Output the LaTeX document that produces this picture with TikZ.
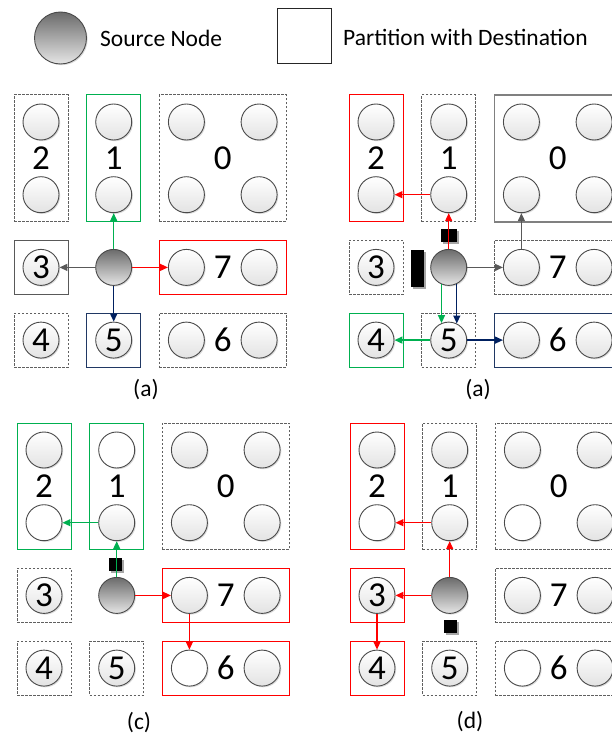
\documentclass[tikz,border=0pt]{standalone}
\usepackage{fontspec}
\setmainfont{Carlito}
\usetikzlibrary{arrows.meta,shadows}
\definecolor{mygreen}{HTML}{00B050}
\definecolor{myred}{HTML}{FF0000}
\definecolor{mynavy}{HTML}{002060}
\definecolor{boxnavy}{HTML}{203864}
\definecolor{mygray}{HTML}{595959}
\definecolor{dashgray}{HTML}{606060}
\definecolor{cbord}{HTML}{4A4A4A}
\newcommand\digfont{\fontsize{35}{35}\selectfont}
\newcommand\legfont{\fontsize{23.5}{23.5}\selectfont}
\tikzset{
  cir/.style={circle,minimum size=36pt,inner sep=0pt,draw=cbord,line width=0.9pt,
    top color=white,bottom color=black!11,font=\digfont,
    general shadow={fill=black!14,shadow xshift=1.2pt,shadow yshift=-1.2pt}},
  wcir/.style={top color=white,bottom color=white},
  srcnode/.style={cir,top color=black!58,bottom color=black!10},
  pbox/.style={rectangle,inner sep=0pt,line width=1pt},
  dashbox/.style={draw=dashgray,dash pattern=on 2.5pt off 1.5pt},
  redbox/.style={draw=myred},
  greenbox/.style={draw=mygreen},
  navybox/.style={draw=boxnavy},
  graybox/.style={draw=mygray},
  graythick/.style={draw=black!50,line width=1.6pt},
  wA/.style={minimum width=54pt},
  wC/.style={minimum width=126.7pt},
  hR1/.style={minimum height=126.7pt},
  hR/.style={minimum height=54pt},
  part0/.style={dashbox},part1/.style={dashbox},part2/.style={dashbox},part3/.style={dashbox},
  part4/.style={dashbox},part5/.style={dashbox},part6/.style={dashbox},part7/.style={dashbox},
  k2a/.style={},k2b/.style={},k1a/.style={},k1b/.style={},k0a/.style={},k0b/.style={},
  k0c/.style={},k0d/.style={},k3/.style={},k7a/.style={},k7b/.style={},k4/.style={},
  k5/.style={},k6a/.style={},k6b/.style={},
  lbl/.style={font=\digfont,inner sep=0pt},
  captxt/.style={font=\legfont,inner sep=0pt},
  arr/.style={line width=1.4pt,-{Triangle[length=8pt,width=7pt]}},
  blk/.style={rectangle,fill=black,inner sep=0pt,
    general shadow={fill=black!35,shadow xshift=1.6pt,shadow yshift=-1.6pt}},
}
\newcommand\gridpanel[1]{%
  \node[pbox,wA,hR1,part2] (#1-P2) at (41,158.35) {};
  \node[pbox,wA,hR1,part1] (#1-P1) at (113.7,158.35) {};
  \node[pbox,wC,hR1,part0] (#1-P0) at (222.75,158.35) {};
  \node[pbox,wA,hR,part3] (#1-P3) at (41,267.4) {};
  \node[pbox,wC,hR,part7] (#1-P7) at (222.75,267.4) {};
  \node[pbox,wA,hR,part4] (#1-P4) at (41,340.1) {};
  \node[pbox,wA,hR,part5] (#1-P5) at (113.7,340.1) {};
  \node[pbox,wC,hR,part6] (#1-P6) at (222.75,340.1) {};
  \node[cir,k2a] (#1-2a) at (41,122) {};
  \node[cir,k2b] (#1-2b) at (41,194.7) {};
  \node[cir,k1a] (#1-1a) at (113.7,122) {};
  \node[cir,k1b] (#1-1b) at (113.7,194.7) {};
  \node[cir,k0a] (#1-0a) at (186.4,122) {};
  \node[cir,k0b] (#1-0b) at (259.1,122) {};
  \node[cir,k0c] (#1-0c) at (186.4,194.7) {};
  \node[cir,k0d] (#1-0d) at (259.1,194.7) {};
  \node[cir,k3] (#1-3) at (41,267.4) {3};
  \node[srcnode] (#1-s) at (113.7,267.4) {};
  \node[cir,k7a] (#1-7a) at (186.4,267.4) {};
  \node[cir,k7b] (#1-7b) at (259.1,267.4) {};
  \node[cir,k4] (#1-4) at (41,340.1) {4};
  \node[cir,k5] (#1-5) at (113.7,340.1) {5};
  \node[cir,k6a] (#1-6a) at (186.4,340.1) {};
  \node[cir,k6b] (#1-6b) at (259.1,340.1) {};
  \node[lbl] (#1-L2) at (41,158.35) {2};
  \node[lbl] (#1-L1) at (113.7,158.35) {1};
  \node[lbl] (#1-L0) at (222.75,158.35) {0};
  \node[lbl] (#1-L7) at (222.75,267.4) {7};
  \node[lbl] (#1-L6) at (222.75,340.1) {6};
}
\begin{document}
\begin{tikzpicture}[x=1pt,y=-1pt]
\useasboundingbox (0,0) rectangle (612,735);
\clip (0,0) rectangle (612,735);
% legend
\node[srcnode,minimum size=52pt] (lg-src) at (60.5,38) {};
\node[captxt,anchor=west] (lg-srct) at (100,38) {Source Node};
\node[rectangle,draw=black!85,line width=1pt,minimum width=54pt,minimum height=55pt] (lg-box) at (304,36.5) {};
\node[captxt,anchor=west] (lg-boxt) at (343,37) {Partition with Destination};
% panel top-left
\begin{scope}[part1/.style={greenbox},part3/.style={graybox},part7/.style={redbox},part5/.style={navybox}]
\gridpanel{tl}
\draw[arr,mygreen] (tl-s) -- (tl-1b);
\draw[arr,mygray] (tl-s) -- (tl-3);
\draw[arr,myred] (tl-s) -- (tl-7a);
\draw[arr,mynavy] (tl-s) -- (tl-5);
\end{scope}
\node[captxt] (cap-a1) at (146,390) {(a)};
% panel top-right
\begin{scope}[shift={(335,0)},part2/.style={redbox},part0/.style={graythick},part4/.style={greenbox},part6/.style={navybox}]
\gridpanel{tr}
\node[blk,minimum width=13pt,minimum height=37pt] (tr-bar) at (82.5,268.5) {};
\node[blk,minimum width=16pt,minimum height=13pt] (tr-mk) at (114,235.5) {};
\draw[arr,myred] (tr-s) -- (tr-1b);
\draw[arr,myred] (tr-1b) -- (tr-2b);
\draw[arr,mygray] (tr-s) -- (tr-7a);
\draw[arr,mygray] (tr-7a) -- (tr-0c);
\draw[arr,mygreen] (tr-s.-113) -- (tr-5.113);
\draw[arr,mynavy] (tr-s.-64) -- (tr-5.64);
\draw[arr,mygreen] (tr-5) -- (tr-4);
\draw[arr,mynavy] (tr-5) -- (tr-6a);
\end{scope}
\node[captxt] (cap-a2) at (478,390) {(a)};
% panel bottom-left
\begin{scope}[shift={(3,328)},part2/.style={greenbox},part1/.style={greenbox},part7/.style={redbox},part6/.style={redbox},
  k2b/.style={wcir},k1a/.style={wcir},k6a/.style={wcir}]
\gridpanel{bl}
\node[blk,minimum width=13pt,minimum height=13pt] (bl-mk) at (112.8,236.5) {};
\draw[arr,mygreen] (bl-s) -- (bl-1b);
\draw[arr,mygreen] (bl-1b) -- (bl-2b);
\draw[arr,myred] (bl-s) -- (bl-7a);
\draw[arr,myred] (bl-7a) -- (bl-6a);
\end{scope}
\node[captxt] (cap-c) at (139,723) {(c)};
% panel bottom-right
\begin{scope}[shift={(336,328)},part2/.style={redbox},part3/.style={redbox},part4/.style={redbox},
  k2b/.style={wcir},k0c/.style={wcir},k6a/.style={wcir}]
\gridpanel{br}
\node[blk,minimum width=13pt,minimum height=13pt] (br-mk) at (114.5,298.5) {};
\draw[arr,myred] (br-s) -- (br-1b);
\draw[arr,myred] (br-1b) -- (br-2b);
\draw[arr,myred] (br-s) -- (br-3);
\draw[arr,myred] (br-3) -- (br-4);
\end{scope}
\node[captxt] (cap-d) at (470,722) {(d)};
\end{tikzpicture}
\end{document}
